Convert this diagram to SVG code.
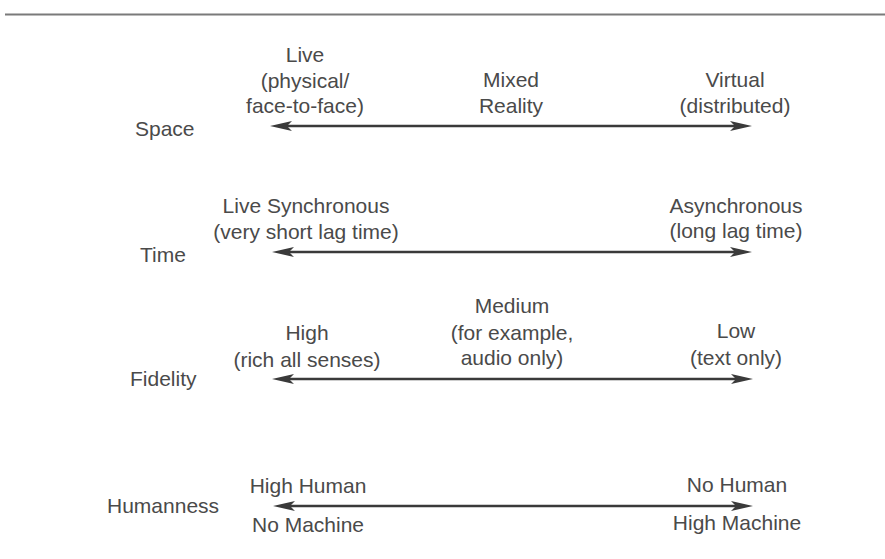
<svg xmlns="http://www.w3.org/2000/svg" width="885" height="559" viewBox="0 0 885 559">
<style>
text{font-family:"Liberation Sans",Arial,sans-serif;font-size:21px;fill:#4a4a4a}
.c{text-anchor:middle}
.ax{stroke:#3a3a3a;stroke-width:2.6;fill:none}
</style>
<defs>
<marker id="ah" markerUnits="userSpaceOnUse" viewBox="0 0 22 10" markerWidth="22" markerHeight="10" refX="12" refY="5" orient="auto-start-reverse">
<path d="M0,0 L22,5 L0,10 L5,5 Z" fill="#3a3a3a"/>
</marker>
</defs>
<rect width="885" height="559" fill="#fff"/>
<line x1="5" y1="14.5" x2="885" y2="14.5" stroke="#7a7a7a" stroke-width="2"/>
<g id="connectors">
<line class="ax" x1="280" y1="126" x2="742" y2="126" marker-start="url(#ah)" marker-end="url(#ah)"/>
<line class="ax" x1="282" y1="252" x2="742" y2="252" marker-start="url(#ah)" marker-end="url(#ah)"/>
<line class="ax" x1="282" y1="379" x2="743" y2="379" marker-start="url(#ah)" marker-end="url(#ah)"/>
<line class="ax" x1="283" y1="506" x2="743" y2="506" marker-start="url(#ah)" marker-end="url(#ah)"/>
</g>
<g id="space">
<text x="135" y="136">Space</text>
<text class="c" x="305" y="62">Live</text>
<text class="c" x="305" y="88">(physical/</text>
<text class="c" x="305" y="113">face-to-face)</text>
<text class="c" x="511" y="87">Mixed</text>
<text class="c" x="511" y="113">Reality</text>
<text class="c" x="735" y="87">Virtual</text>
<text class="c" x="735" y="113">(distributed)</text>
</g>
<g id="time">
<text x="140" y="262">Time</text>
<text class="c" x="306" y="213">Live Synchronous</text>
<text class="c" x="306" y="239">(very short lag time)</text>
<text class="c" x="736" y="213">Asynchronous</text>
<text class="c" x="736" y="238">(long lag time)</text>
</g>
<g id="fidelity">
<text x="130" y="386">Fidelity</text>
<text class="c" x="307" y="340">High</text>
<text class="c" x="307" y="367">(rich all senses)</text>
<text class="c" x="512" y="313">Medium</text>
<text class="c" x="512" y="340">(for example,</text>
<text class="c" x="512" y="365">audio only)</text>
<text class="c" x="736" y="338">Low</text>
<text class="c" x="736" y="365">(text only)</text>
</g>
<g id="humanness">
<text x="107" y="513">Humanness</text>
<text class="c" x="308" y="493">High Human</text>
<text class="c" x="308" y="532">No Machine</text>
<text class="c" x="737" y="492">No Human</text>
<text class="c" x="737" y="530">High Machine</text>
</g>
</svg>
